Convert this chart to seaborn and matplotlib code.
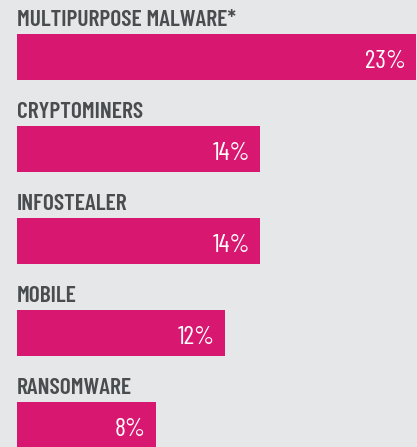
import matplotlib as mpl
import matplotlib.pyplot as plt
import pandas as pd
import seaborn as sns

categories = ["MULTIPURPOSE MALWARE*", "CRYPTOMINERS", "INFOSTEALER", "MOBILE", "RANSOMWARE"]
shares = [23, 14, 14, 12, 8]
value_labels = ["23%", "14%", "14%", "12%", "8%"]

BG = "#e6e7e9"
BAR = "#d81770"
LABEL = "#4a4d50"

sns.set_theme(style="white")
mpl.rcParams["font.family"] = ["Barlow Condensed", "DejaVu Sans"]

df = pd.DataFrame({"cat": categories, "share": shares})

fig = plt.figure(figsize=(4.17, 4.47), dpi=100, facecolor=BG)
ax = fig.add_axes([17 / 417, 0, 400 / 417, 1])
ax.set_facecolor(BG)

sns.barplot(data=df, y="cat", x="share", orient="h", color=BAR,
            saturation=1, width=0.5, linewidth=0, ax=ax)

for i, (cat, lab, val) in enumerate(zip(categories, value_labels, shares)):
    # category name above the bar
    ax.annotate(cat, xy=(0, i - 0.25), xytext=(0, 8), textcoords="offset pixels",
                ha="left", va="baseline", fontsize=17, fontweight=600, color=LABEL)
    # value inside the bar, right aligned
    ax.annotate(lab, xy=(val, i), xytext=(-10, -11), textcoords="offset pixels",
                ha="right", va="baseline", fontsize=18.5, fontweight=400, color="white")

ax.set_xlim(0, 23.05)
ax.set_ylim(4.234, -0.625)
ax.set_xticks([]); ax.set_yticks([])
ax.set_xlabel(""); ax.set_ylabel("")
sns.despine(ax=ax, left=True, bottom=True)

fig.savefig("out.png", dpi=100, facecolor=BG)
